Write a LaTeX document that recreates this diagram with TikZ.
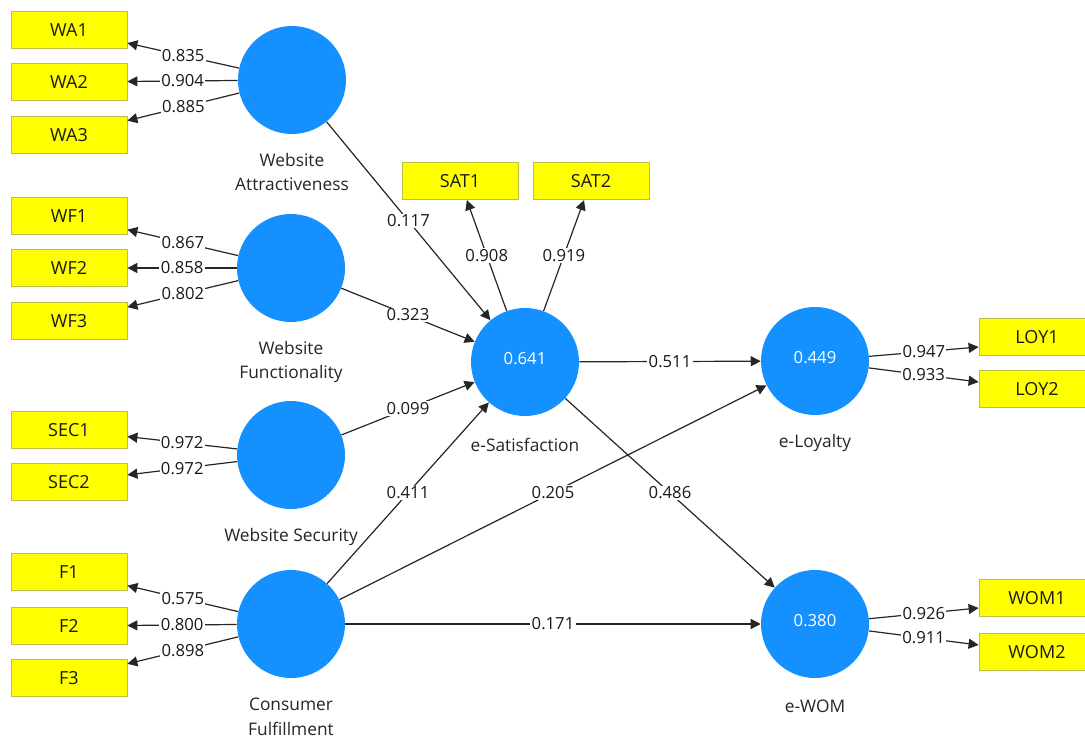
\documentclass[tikz,border=0pt]{standalone}
\usepackage{fontspec}
\setmainfont{Open Sans}
\usepackage{xcolor}
\usepackage{tikz}
\usetikzlibrary{arrows.meta}
\usetikzlibrary{positioning}
\definecolor{plsblue}{RGB}{20,145,255}
\definecolor{plsyellow}{RGB}{255,255,0}
\definecolor{plsframe}{RGB}{190,190,70}
\tikzset{
    lv/.style={circle, fill=plsblue, minimum size=81pt, inner sep=0pt, text depth=6pt, text=white, font=\fontsize{12.5}{14}\selectfont},
    ind/.style={rectangle, fill=plsyellow, draw=plsframe, line width=0.6pt, minimum width=87pt, minimum height=28pt, inner sep=0pt, text=black!90, font=\fontsize{13.5}{15}\selectfont},
    lvname/.style={align=center, text=black!85, font=\fontsize{13}{18.5}\selectfont},
    coef/.style={fill=white, inner sep=1pt, text=black!90, font=\fontsize{12.5}{14}\selectfont},
    arr/.style={-{Triangle[length=7.5pt,width=7.5pt]}, line width=0.9pt, draw=black!85}
}

\begin{document}
\begin{tikzpicture}[x=0.75pt,y=-0.75pt]
        \clip (0,0) rectangle (1085,738);
        \fill[white] (0,0) rectangle (1085,738);
        %LATENT VARIABLES
        \node[lv] (wa) at (292,80) {};
        \node[lv] (wf) at (291,268) {};
        \node[lv] (sec) at (291,455) {};
        \node[lv] (cf) at (291,624) {};
        \node[lv] (sat) at (525,362) {0.641};
        \node[lv] (loy) at (815,361) {0.449};
        \node[lv] (wom) at (815,624) {0.380};
        %NAMES
        \node[lvname] (wa-name) at (292,172) {Website\\Attractiveness};
        \node[lvname] (wf-name) at (291,362) {Website\\Functionality};
        \node[lvname] (sec-name) at (291,537) {Website Security};
        \node[lvname] (cf-name) at (291,717) {Consumer\\Fulfillment};
        \node[lvname] (sat-name) at (525,445) {e-Satisfaction};
        \node[lvname] (loy-name) at (815,443) {e-Loyalty};
        \node[lvname] (wom-name) at (815,706) {e-WOM};
        %INDICATORS
        \node[ind] (wa1) at (69,30) {WA1};
        \node[ind] (wa2) at (69,82) {WA2};
        \node[ind] (wa3) at (69,135) {WA3};
        \node[ind] (wf1) at (69,216) {WF1};
        \node[ind] (wf2) at (69,268) {WF2};
        \node[ind] (wf3) at (69,321) {WF3};
        \node[ind] (sec1) at (69,430) {SEC1};
        \node[ind] (sec2) at (69,482) {SEC2};
        \node[ind] (f1) at (69,572) {F1};
        \node[ind] (f2) at (69,626) {F2};
        \node[ind] (f3) at (69,678) {F3};
        \node[ind] (sat1) at (460,181) {SAT1};
        \node[ind] (sat2) at (591,181) {SAT2};
        \node[ind] (loy1) at (1037,337) {LOY1};
        \node[ind] (loy2) at (1037,389) {LOY2};
        \node[ind] (wom1) at (1037,598) {WOM1};
        \node[ind] (wom2) at (1037,652) {WOM2};
        %LOADINGS
        \draw[arr] (wa) -- node[coef] (l-wa1) {0.835} (wa1);
        \draw[arr] (wa) -- node[coef] (l-wa2) {0.904} (wa2);
        \draw[arr] (wa) -- node[coef] (l-wa3) {0.885} (wa3);
        \draw[arr] (wf) -- node[coef] (l-wf1) {0.867} (wf1);
        \draw[arr] (wf) -- node[coef] (l-wf2) {0.858} (wf2);
        \draw[arr] (wf) -- node[coef] (l-wf3) {0.802} (wf3);
        \draw[arr] (sec) -- node[coef] (l-sec1) {0.972} (sec1);
        \draw[arr] (sec) -- node[coef] (l-sec2) {0.972} (sec2);
        \draw[arr] (cf) -- node[coef] (l-f1) {0.575} (f1);
        \draw[arr] (cf) -- node[coef] (l-f2) {0.800} (f2);
        \draw[arr] (cf) -- node[coef] (l-f3) {0.898} (f3);
        \draw[arr] (sat) -- node[coef] (l-sat1) {0.908} (sat1);
        \draw[arr] (sat) -- node[coef] (l-sat2) {0.919} (sat2);
        \draw[arr] (loy) -- node[coef] (l-loy1) {0.947} ([yshift=-7.5pt]loy1.west);
        \draw[arr] (loy) -- node[coef] (l-loy2) {0.933} ([yshift=5.25pt]loy2.west);
        \draw[arr] (wom) -- node[coef] (l-wom1) {0.926} ([yshift=-7.5pt]wom1.west);
        \draw[arr] (wom) -- node[coef] (l-wom2) {0.911} ([yshift=5.25pt]wom2.west);
        %PATHS
        \draw[arr] (wa) -- node[coef] (p-wa) {0.117} (sat);
        \draw[arr] (wf) -- node[coef] (p-wf) {0.323} (sat);
        \draw[arr] (sec) -- node[coef] (p-sec) {0.099} (sat);
        \draw[arr] (cf) -- node[coef] (p-cf-sat) {0.411} (sat);
        \draw[arr] (cf) -- node[coef] (p-cf-loy) {0.205} (loy);
        \draw[arr] (cf) -- node[coef] (p-cf-wom) {0.171} (wom);
        \draw[arr] (sat) -- node[coef] (p-sat-loy) {0.511} (loy);
        \draw[arr] (sat) -- node[coef] (p-sat-wom) {0.486} (wom);
\end{tikzpicture}
\end{document}
